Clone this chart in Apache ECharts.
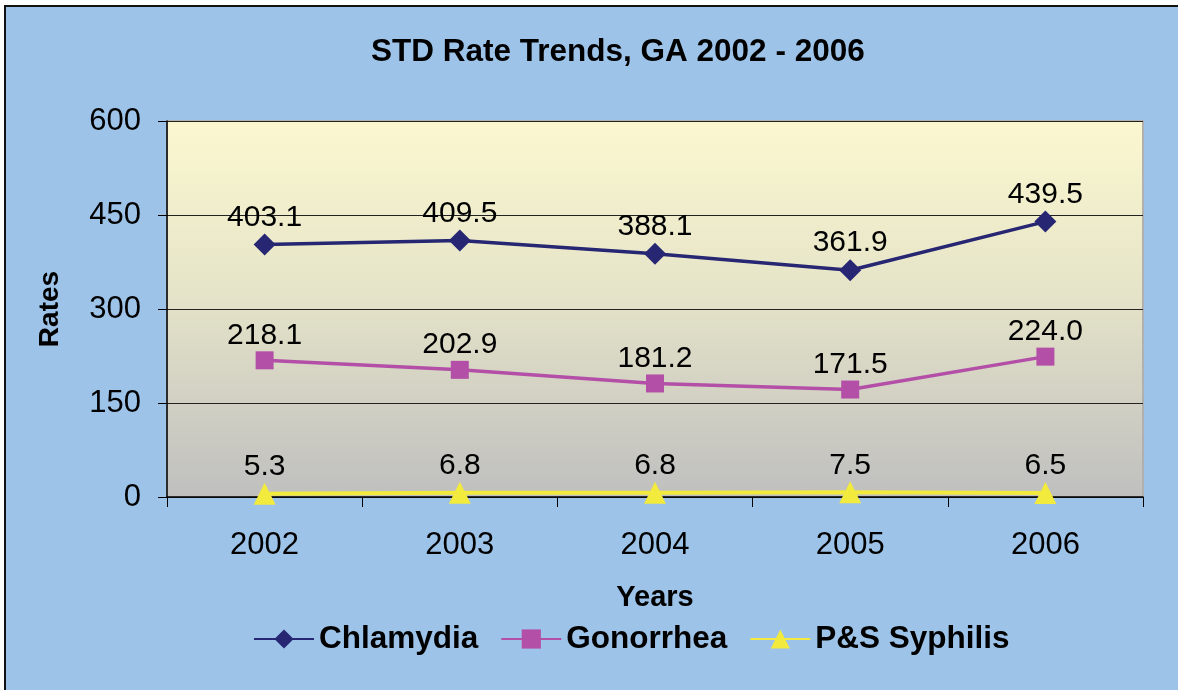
<!DOCTYPE html>
<html>
<head>
<meta charset="utf-8">
<script src="https://cdn.jsdelivr.net/npm/echarts@6/dist/echarts.min.js"></script>
<style>
  html, body { margin: 0; padding: 0; background: #fff; }
  #frame {
    position: absolute; left: 4px; top: 5px; width: 1172px; height: 683px;
    border: 2px solid #111; background: #9dc3e8;
  }
  #main { width: 1172px; height: 683px; }
</style>
</head>
<body>
<div id="frame"><div id="main"></div></div>
<script>
// 数据
const years = ['2002', '2003', '2004', '2005', '2006']
const chlamydia = [403.1, 409.5, 388.1, 361.9, 439.5]
const gonorrhea = [218.1, 202.9, 181.2, 171.5, 224.0]
const syphilis = [5.3, 6.8, 6.8, 7.5, 6.5]

const chart = echarts.init(document.getElementById('main'))

const labelStyle = {
  show: true,
  position: 'top',
  distance: 1,
  color: '#000',
  fontSize: 30,
  fontFamily: 'Liberation Sans',
  formatter: p => p.value.toFixed(1)
}

const option = {
  animation: false,
  textStyle: { fontFamily: 'Liberation Sans' },
  title: {
    text: 'STD Rate Trends, GA 2002 - 2006',
    left: 360,
    top: 24,
    textStyle: { fontSize: 31.5, fontWeight: 'bold', color: '#000', fontFamily: 'Liberation Sans' }
  },
  legend: {
    bottom: 30,
    left: 242,
    itemWidth: 60,
    itemHeight: 24,
    itemGap: 22,
    textStyle: { fontSize: 31.5, fontWeight: 'bold', color: '#000', fontFamily: 'Liberation Sans' },
    data: ['Chlamydia', 'Gonorrhea', 'P&S Syphilis']
  },
  grid: {
    left: 161,
    top: 114,
    right: 35,
    bottom: 193,
    show: true,
    borderColor: '#b0b0b0',
    borderWidth: 2,
    backgroundColor: new echarts.graphic.LinearGradient(0, 0, 0, 1, [
      { offset: 0, color: '#fbf8d0' },
      { offset: 0.45, color: '#e6e4c8' },
      { offset: 1, color: '#bfbfbf' }
    ])
  },
  xAxis: {
    type: 'category',
    data: years,
    name: 'Years',
    nameLocation: 'middle',
    nameGap: 86,
    nameTextStyle: { fontSize: 29, fontWeight: 'bold', color: '#000' },
    axisLine: { lineStyle: { color: '#000', width: 1.5 } },
    axisTick: { show: true, length: 10, lineStyle: { color: '#000' } },
    axisLabel: { fontSize: 31, color: '#000', margin: 33 }
  },
  yAxis: {
    type: 'value',
    min: 0,
    max: 600,
    interval: 150,
    name: 'Rates',
    nameLocation: 'middle',
    nameGap: 103,
    nameRotate: 90,
    nameTextStyle: { fontSize: 28, fontWeight: 'bold', color: '#000' },
    axisLine: { show: true, lineStyle: { color: '#000', width: 1.5 } },
    axisTick: { show: true, length: 9, lineStyle: { color: '#000' } },
    axisLabel: { fontSize: 31, color: '#000', margin: 26 },
    splitLine: { lineStyle: { color: '#222', width: 1 } }
  },
  series: [
    {
      name: 'Chlamydia',
      type: 'line',
      data: chlamydia,
      symbol: 'diamond',
      symbolSize: 22,
      itemStyle: { color: '#262673' },
      lineStyle: { color: '#262673', width: 3.5 },
      label: labelStyle
    },
    {
      name: 'Gonorrhea',
      type: 'line',
      data: gonorrhea,
      symbol: 'rect',
      symbolSize: 18,
      itemStyle: { color: '#b44fa8' },
      lineStyle: { color: '#b44fa8', width: 3.5 },
      label: labelStyle
    },
    {
      name: 'P&S Syphilis',
      type: 'line',
      data: syphilis,
      symbol: 'triangle',
      symbolSize: 22,
      itemStyle: { color: '#f2ea3c' },
      lineStyle: { color: '#f2ea3c', width: 4 },
      label: labelStyle
    }
  ]
}

chart.setOption(option)
</script>
</body>
</html>
